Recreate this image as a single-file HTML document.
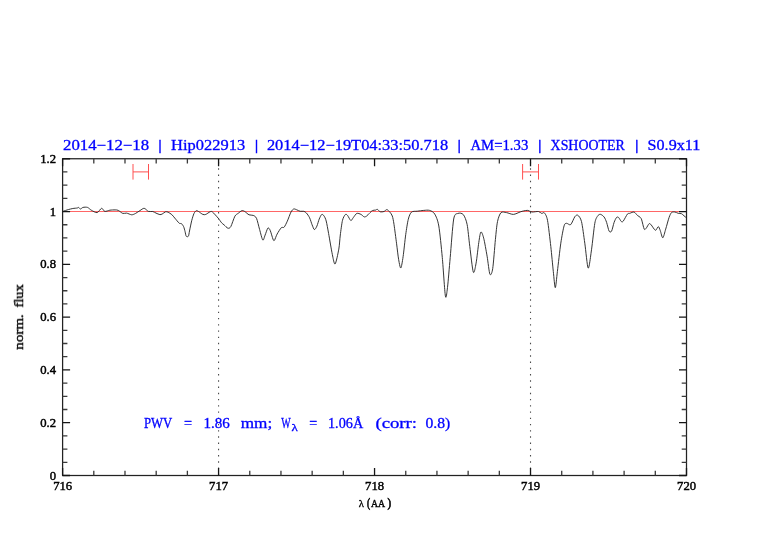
<!DOCTYPE html>
<html><head><meta charset="utf-8"><style>
html,body{margin:0;padding:0;background:#fff;}
body{width:782px;height:542px;overflow:hidden;}
svg{display:block;}
text{will-change:transform;}
</style></head><body>
<svg width="782" height="542" viewBox="0 0 782 542">
<rect width="782" height="542" fill="#fff"/>
<g fill="none" stroke="#4a4a4a" stroke-width="1.1" stroke-dasharray="1.4 4.833" stroke-dashoffset="2.87">
<path d="M218.57,158.75V475.5"/>
<path d="M530.52,158.75V475.5"/>
</g>
<path d="M62.6,211.5H686.5" stroke="#ff6666" stroke-width="1" fill="none"/>
<g stroke="#ff5050" stroke-width="1.0" fill="none">
<path d="M133,164V179.6M148.5,164V179.6M133,171.9H148.5"/>
<path d="M522.6,164V179.6M538.5,164V179.6M522.6,171.9H538.5"/>
</g>
<path d="M63.20,211.20 C63.91,210.98 66.96,209.98 68.30,209.60 C69.64,209.22 71.54,208.72 72.80,208.50 C74.06,208.28 76.50,208.15 77.30,208.00 C78.10,207.85 78.05,207.26 78.50,207.40 C78.95,207.54 79.87,209.00 80.50,209.00 C81.13,209.00 82.02,207.62 83.00,207.40 C83.98,207.18 86.34,207.01 87.50,207.40 C88.66,207.79 89.96,209.47 91.30,210.20 C92.64,210.93 95.66,212.87 97.10,212.60 C98.54,212.33 100.52,208.47 101.60,208.30 C102.68,208.13 103.64,211.13 104.80,211.40 C105.96,211.67 108.46,210.41 109.90,210.20 C111.34,209.99 113.92,209.87 115.10,209.90 C116.28,209.93 117.22,209.91 118.30,210.40 C119.38,210.89 121.64,213.02 122.80,213.40 C123.96,213.78 125.35,212.90 126.60,213.10 C127.85,213.30 130.44,214.76 131.70,214.80 C132.96,214.84 134.42,214.00 135.60,213.40 C136.78,212.80 138.90,211.21 140.10,210.50 C141.30,209.79 143.04,208.17 144.20,208.30 C145.36,208.43 147.20,210.95 148.40,211.40 C149.60,211.85 151.74,211.26 152.80,211.50 C153.86,211.74 155.01,212.67 156.00,213.10 C156.99,213.53 159.03,214.47 159.90,214.60 C160.77,214.73 161.42,214.39 162.20,214.00 C162.98,213.61 164.67,212.05 165.50,211.80 C166.33,211.55 167.22,211.81 168.10,212.20 C168.98,212.59 170.86,213.77 171.80,214.60 C172.74,215.43 173.76,216.90 174.80,218.10 C175.84,219.30 178.28,222.43 179.20,223.20 C180.12,223.97 180.78,223.12 181.40,223.60 C182.02,224.08 183.08,225.47 183.60,226.60 C184.12,227.73 184.74,230.36 185.10,231.70 C185.46,233.04 185.74,235.57 186.20,236.20 C186.66,236.83 187.94,236.93 188.40,236.20 C188.86,235.47 189.04,233.17 189.50,231.00 C189.96,228.83 191.08,223.12 191.70,220.70 C192.32,218.28 193.27,215.10 193.90,213.70 C194.53,212.30 195.57,211.02 196.20,210.70 C196.83,210.38 197.48,210.88 198.40,211.40 C199.32,211.92 201.76,213.98 202.80,214.40 C203.84,214.82 204.79,214.76 205.80,214.40 C206.81,214.04 209.06,212.14 210.00,211.80 C210.94,211.46 211.34,211.09 212.50,212.00 C213.66,212.91 217.03,216.79 218.30,218.30 C219.57,219.81 220.79,221.88 221.60,222.80 C222.41,223.72 223.22,224.14 224.10,224.90 C224.98,225.66 226.96,227.96 227.90,228.20 C228.84,228.44 229.82,228.28 230.80,226.60 C231.78,224.92 233.86,218.06 234.90,216.20 C235.94,214.34 237.21,214.08 238.20,213.30 C239.19,212.52 241.06,210.84 242.00,210.60 C242.94,210.36 243.92,211.01 244.90,211.60 C245.88,212.19 247.84,214.27 249.00,214.80 C250.16,215.33 252.15,214.91 253.20,215.40 C254.25,215.89 255.60,216.33 256.50,218.30 C257.40,220.27 258.72,226.45 259.60,229.50 C260.48,232.55 262.03,239.32 262.80,240.10 C263.57,240.88 264.39,236.78 265.10,235.10 C265.81,233.42 267.19,228.76 267.90,228.10 C268.61,227.44 269.49,228.85 270.20,230.40 C270.91,231.95 272.41,237.80 273.00,239.20 C273.59,240.60 273.83,241.11 274.40,240.40 C274.97,239.69 276.13,235.88 277.10,234.10 C278.07,232.32 280.32,228.67 281.30,227.70 C282.28,226.73 283.26,228.11 284.10,227.20 C284.94,226.29 286.33,223.33 287.30,221.20 C288.27,219.07 290.10,213.71 291.00,212.00 C291.90,210.29 292.93,209.32 293.70,209.00 C294.47,208.68 295.59,209.38 296.50,209.70 C297.41,210.02 299.18,211.08 300.20,211.30 C301.22,211.52 302.93,211.06 303.80,211.30 C304.67,211.54 305.59,212.09 306.40,213.00 C307.21,213.91 308.80,216.15 309.60,217.80 C310.40,219.45 311.43,223.15 312.10,224.80 C312.77,226.45 313.73,229.42 314.40,229.60 C315.07,229.78 316.23,227.57 316.90,226.10 C317.57,224.63 318.53,220.72 319.20,219.10 C319.87,217.48 321.03,214.95 321.70,214.50 C322.37,214.05 323.37,214.99 324.00,215.90 C324.63,216.81 325.56,218.54 326.20,221.00 C326.84,223.46 327.75,228.84 328.60,233.50 C329.45,238.16 331.39,250.03 332.30,254.30 C333.21,258.57 334.19,264.73 335.10,264.00 C336.01,263.27 338.07,253.16 338.80,249.10 C339.53,245.04 339.78,239.03 340.30,235.00 C340.82,230.97 341.79,223.17 342.50,220.30 C343.21,217.43 344.69,215.17 345.40,214.50 C346.11,213.83 346.84,214.66 347.60,215.50 C348.36,216.34 350.00,220.21 350.80,220.50 C351.60,220.79 352.46,218.59 353.30,217.60 C354.14,216.61 355.72,213.85 356.80,213.40 C357.88,212.95 359.96,213.91 361.00,214.40 C362.04,214.89 363.40,216.68 364.20,216.90 C365.00,217.12 365.99,216.49 366.70,216.00 C367.41,215.51 368.49,214.17 369.30,213.40 C370.11,212.63 371.60,210.96 372.50,210.50 C373.40,210.04 375.03,210.27 375.70,210.10 C376.37,209.93 376.67,209.06 377.30,209.30 C377.93,209.54 379.26,211.49 380.20,211.80 C381.14,212.11 383.06,211.81 384.00,211.50 C384.94,211.19 386.09,209.52 386.90,209.60 C387.71,209.68 389.04,211.20 389.80,212.10 C390.56,213.00 391.71,214.28 392.30,216.00 C392.89,217.72 393.40,220.51 394.00,224.40 C394.60,228.29 395.96,238.91 396.60,243.80 C397.24,248.69 398.01,255.91 398.60,259.30 C399.19,262.69 400.17,268.36 400.80,268.00 C401.43,267.64 402.41,261.36 403.10,256.70 C403.79,252.04 404.97,239.95 405.70,234.70 C406.43,229.45 407.49,222.36 408.30,219.20 C409.11,216.04 410.24,213.22 411.50,212.10 C412.76,210.98 415.58,211.44 417.30,211.20 C419.02,210.96 422.08,210.51 423.80,210.40 C425.52,210.29 428.07,209.90 429.60,210.40 C431.13,210.90 433.41,211.82 434.70,214.00 C435.99,216.18 437.74,219.90 438.80,226.00 C439.86,232.10 441.38,247.79 442.30,257.60 C443.22,267.41 444.67,291.93 445.40,296.10 C446.13,300.27 446.83,292.79 447.50,287.40 C448.17,282.01 449.33,267.18 450.20,257.60 C451.07,248.02 452.61,225.19 453.70,219.00 C454.79,212.81 456.66,214.02 458.00,213.40 C459.34,212.78 462.03,213.06 463.30,214.60 C464.57,216.14 466.19,219.93 467.10,224.40 C468.01,228.87 468.93,239.82 469.80,246.50 C470.67,253.18 472.42,269.78 473.30,272.10 C474.18,274.42 475.33,267.26 476.10,263.10 C476.87,258.94 478.13,246.75 478.80,242.40 C479.47,238.05 480.21,232.59 480.90,232.00 C481.59,231.41 482.83,234.81 483.70,238.20 C484.57,241.59 486.23,251.16 487.10,256.20 C487.97,261.24 489.12,272.45 489.90,274.20 C490.68,275.95 491.93,273.54 492.70,268.70 C493.47,263.86 494.73,246.19 495.40,239.60 C496.07,233.01 496.72,225.38 497.50,221.60 C498.28,217.82 499.74,213.86 501.00,212.60 C502.26,211.34 504.76,212.35 506.50,212.60 C508.24,212.85 511.47,214.50 513.40,214.40 C515.33,214.30 518.86,212.39 520.30,211.90 C521.74,211.41 522.65,211.11 523.70,210.90 C524.75,210.69 526.64,210.25 527.80,210.40 C528.96,210.55 530.50,211.85 532.00,212.00 C533.50,212.15 537.14,211.30 538.50,211.50 C539.86,211.70 540.87,213.20 541.70,213.40 C542.53,213.60 543.59,211.93 544.40,212.90 C545.21,213.87 546.60,215.60 547.50,220.30 C548.40,225.00 549.99,239.35 550.80,246.50 C551.61,253.65 552.67,265.63 553.30,271.40 C553.93,277.17 554.73,287.70 555.30,287.70 C555.87,287.70 556.63,277.63 557.40,271.40 C558.17,265.17 559.86,249.58 560.80,243.20 C561.74,236.82 563.29,228.59 564.10,225.80 C564.91,223.01 565.68,223.47 566.60,223.30 C567.52,223.13 569.54,225.54 570.70,224.60 C571.86,223.66 573.89,217.90 574.90,216.60 C575.91,215.30 576.98,214.60 577.90,215.30 C578.82,216.00 580.53,217.69 581.50,221.60 C582.47,225.51 583.86,236.69 584.80,243.20 C585.74,249.71 587.26,267.18 588.20,268.10 C589.14,269.02 590.58,256.07 591.50,249.80 C592.42,243.53 593.96,228.00 594.80,223.30 C595.64,218.60 596.72,217.46 597.50,216.20 C598.28,214.94 599.48,214.19 600.40,214.30 C601.32,214.41 603.23,215.87 604.10,217.00 C604.97,218.13 605.90,220.43 606.60,222.40 C607.30,224.37 608.40,229.88 609.10,231.10 C609.80,232.32 610.90,232.32 611.60,231.10 C612.30,229.88 613.40,224.32 614.10,222.40 C614.80,220.48 615.96,218.07 616.60,217.40 C617.24,216.73 618.06,217.04 618.70,217.60 C619.34,218.16 620.57,220.90 621.20,221.40 C621.83,221.90 622.33,222.22 623.20,221.20 C624.07,220.18 626.46,215.21 627.40,214.10 C628.34,212.99 628.98,213.59 629.90,213.30 C630.82,213.01 632.95,211.71 634.00,212.00 C635.05,212.29 636.52,214.64 637.40,215.40 C638.28,216.16 639.70,216.77 640.30,217.40 C640.90,218.03 641.15,218.26 641.70,219.90 C642.25,221.54 643.57,227.94 644.20,229.10 C644.83,230.26 645.51,228.96 646.20,228.20 C646.89,227.44 648.40,224.16 649.10,223.70 C649.80,223.24 650.32,223.98 651.20,224.90 C652.08,225.82 654.41,230.06 655.40,230.30 C656.39,230.54 657.61,226.54 658.30,226.60 C658.99,226.66 659.67,229.13 660.30,230.70 C660.93,232.27 662.04,238.02 662.80,237.80 C663.56,237.58 664.82,231.96 665.70,229.10 C666.58,226.24 668.27,219.72 669.10,217.40 C669.93,215.08 670.79,213.26 671.60,212.50 C672.41,211.74 673.98,211.89 674.90,212.00 C675.82,212.11 677.28,213.06 678.20,213.30 C679.12,213.54 680.69,213.35 681.50,213.70 C682.31,214.05 683.30,215.21 684.00,215.80 C684.70,216.39 686.15,217.61 686.50,217.90" fill="none" stroke="#2a2a2a" stroke-width="0.95" stroke-linejoin="round"/>
<rect x="62.6" y="158.75" width="623.90" height="316.75" fill="none" stroke="#222" stroke-width="1.25"/>
<path d="M93.80,475.50V470.70M93.80,158.75V163.55M124.99,475.50V470.70M124.99,158.75V163.55M156.19,475.50V470.70M156.19,158.75V163.55M187.38,475.50V470.70M187.38,158.75V163.55M249.77,475.50V470.70M249.77,158.75V163.55M280.96,475.50V470.70M280.96,158.75V163.55M312.16,475.50V470.70M312.16,158.75V163.55M343.35,475.50V470.70M343.35,158.75V163.55M405.75,475.50V470.70M405.75,158.75V163.55M436.94,475.50V470.70M436.94,158.75V163.55M468.14,475.50V470.70M468.14,158.75V163.55M499.33,475.50V470.70M499.33,158.75V163.55M561.72,475.50V470.70M561.72,158.75V163.55M592.91,475.50V470.70M592.91,158.75V163.55M624.11,475.50V470.70M624.11,158.75V163.55M655.30,475.50V470.70M655.30,158.75V163.55M62.60,462.30H67.40M686.50,462.30H681.70M62.60,449.10H67.40M686.50,449.10H681.70M62.60,435.91H67.40M686.50,435.91H681.70M62.60,409.51H67.40M686.50,409.51H681.70M62.60,396.31H67.40M686.50,396.31H681.70M62.60,383.11H67.40M686.50,383.11H681.70M62.60,356.72H67.40M686.50,356.72H681.70M62.60,343.52H67.40M686.50,343.52H681.70M62.60,330.32H67.40M686.50,330.32H681.70M62.60,303.93H67.40M686.50,303.93H681.70M62.60,290.73H67.40M686.50,290.73H681.70M62.60,277.53H67.40M686.50,277.53H681.70M62.60,251.14H67.40M686.50,251.14H681.70M62.60,237.94H67.40M686.50,237.94H681.70M62.60,224.74H67.40M686.50,224.74H681.70M62.60,198.34H67.40M686.50,198.34H681.70M62.60,185.15H67.40M686.50,185.15H681.70M62.60,171.95H67.40M686.50,171.95H681.70" stroke="#3a3a3a" stroke-width="1.3" fill="none"/>
<path d="M62.60,475.50V468.00M62.60,158.75V166.25M218.57,475.50V468.00M218.57,158.75V166.25M374.55,475.50V468.00M374.55,158.75V166.25M530.52,475.50V468.00M530.52,158.75V166.25M686.50,475.50V468.00M686.50,158.75V166.25M62.60,475.50H70.10M686.50,475.50H679.00M62.60,422.71H70.10M686.50,422.71H679.00M62.60,369.92H70.10M686.50,369.92H679.00M62.60,317.12H70.10M686.50,317.12H679.00M62.60,264.33H70.10M686.50,264.33H679.00M62.60,211.54H70.10M686.50,211.54H679.00M62.60,158.75H70.10M686.50,158.75H679.00" stroke="#151515" stroke-width="1.3" fill="none"/>
<text transform="translate(63.00,150.20) scale(1.1754,1)" font-family="Liberation Serif" font-size="14.3" font-weight="normal" fill="#0000ff" stroke="#0000ff" stroke-width="0.3">2014−12−18</text>
<text transform="translate(157.90,150.20) scale(1.4000,1)" font-family="Liberation Serif" font-size="14.3" font-weight="normal" fill="#0000ff" stroke="#0000ff" stroke-width="0.3">|</text>
<text transform="translate(171.10,150.20) scale(1.1513,1)" font-family="Liberation Serif" font-size="14.3" font-weight="normal" fill="#0000ff" stroke="#0000ff" stroke-width="0.3">Hip022913</text>
<text transform="translate(254.40,150.20) scale(1.4000,1)" font-family="Liberation Serif" font-size="14.3" font-weight="normal" fill="#0000ff" stroke="#0000ff" stroke-width="0.3">|</text>
<text transform="translate(266.90,150.20) scale(1.1493,1)" font-family="Liberation Serif" font-size="14.3" font-weight="normal" fill="#0000ff" stroke="#0000ff" stroke-width="0.3">2014−12−19T04:33:50.718</text>
<text transform="translate(457.30,150.20) scale(1.4000,1)" font-family="Liberation Serif" font-size="14.3" font-weight="normal" fill="#0000ff" stroke="#0000ff" stroke-width="0.3">|</text>
<text transform="translate(470.40,150.20) scale(1.0327,1)" font-family="Liberation Serif" font-size="14.3" font-weight="normal" fill="#0000ff" stroke="#0000ff" stroke-width="0.3">AM=1.33</text>
<text transform="translate(537.80,150.20) scale(1.4000,1)" font-family="Liberation Serif" font-size="14.3" font-weight="normal" fill="#0000ff" stroke="#0000ff" stroke-width="0.3">|</text>
<text transform="translate(550.60,150.20) scale(0.9724,1)" font-family="Liberation Serif" font-size="14.3" font-weight="normal" fill="#0000ff" stroke="#0000ff" stroke-width="0.3">XSHOOTER</text>
<text transform="translate(634.80,150.20) scale(1.4000,1)" font-family="Liberation Serif" font-size="14.3" font-weight="normal" fill="#0000ff" stroke="#0000ff" stroke-width="0.3">|</text>
<text transform="translate(647.60,150.20) scale(1.1269,1)" font-family="Liberation Serif" font-size="14.3" font-weight="normal" fill="#0000ff" stroke="#0000ff" stroke-width="0.3">S0.9x11</text>
<text transform="translate(143.90,427.70) scale(0.8907,1)" font-family="Liberation Serif" font-size="14.3" font-weight="normal" fill="#0000ff" stroke="#0000ff" stroke-width="0.3">PWV</text>
<text transform="translate(184.00,427.70) scale(1.0000,1)" font-family="Liberation Serif" font-size="14.3" font-weight="normal" fill="#0000ff" stroke="#0000ff" stroke-width="0.3">=</text>
<text transform="translate(203.44,427.70) scale(1.0557,1)" font-family="Liberation Serif" font-size="14.3" font-weight="normal" fill="#0000ff" stroke="#0000ff" stroke-width="0.3">1.86</text>
<text transform="translate(240.70,427.70) scale(1.2004,1)" font-family="Liberation Serif" font-size="14.3" font-weight="normal" fill="#0000ff" stroke="#0000ff" stroke-width="0.3">mm;</text>
<text transform="translate(281.20,427.70) scale(0.7000,1)" font-family="Liberation Serif" font-size="14.3" font-weight="normal" fill="#0000ff" stroke="#0000ff" stroke-width="0.3">W</text>
<text transform="translate(309.20,427.70) scale(0.9875,1)" font-family="Liberation Serif" font-size="14.3" font-weight="normal" fill="#0000ff" stroke="#0000ff" stroke-width="0.3">=</text>
<text transform="translate(328.00,427.70) scale(0.9966,1)" font-family="Liberation Serif" font-size="14.3" font-weight="normal" fill="#0000ff" stroke="#0000ff" stroke-width="0.3">1.06Å</text>
<text transform="translate(375.40,427.70) scale(1.3127,1)" font-family="Liberation Serif" font-size="14.3" font-weight="normal" fill="#0000ff" stroke="#0000ff" stroke-width="0.3">(corr:</text>
<text transform="translate(425.50,427.70) scale(1.0975,1)" font-family="Liberation Serif" font-size="14.3" font-weight="normal" fill="#0000ff" stroke="#0000ff" stroke-width="0.3">0.8)</text>
<text transform="translate(291.40,430.80) scale(1.3000,1)" font-family="Liberation Serif" font-size="10" font-weight="normal" fill="#0000ff" stroke="#0000ff" stroke-width="0.3">λ</text>
<text transform="translate(49.76,479.50) scale(1.0400,1)" font-family="Liberation Serif" font-size="12.2" font-weight="normal" fill="#000" stroke="#000" stroke-width="0.45">0</text>
<text transform="translate(40.25,426.71) scale(1.0400,1)" font-family="Liberation Serif" font-size="12.2" font-weight="normal" fill="#000" stroke="#000" stroke-width="0.45">0.2</text>
<text transform="translate(40.25,373.92) scale(1.0400,1)" font-family="Liberation Serif" font-size="12.2" font-weight="normal" fill="#000" stroke="#000" stroke-width="0.45">0.4</text>
<text transform="translate(40.25,321.12) scale(1.0400,1)" font-family="Liberation Serif" font-size="12.2" font-weight="normal" fill="#000" stroke="#000" stroke-width="0.45">0.6</text>
<text transform="translate(40.25,268.33) scale(1.0400,1)" font-family="Liberation Serif" font-size="12.2" font-weight="normal" fill="#000" stroke="#000" stroke-width="0.45">0.8</text>
<text transform="translate(49.76,215.54) scale(1.0400,1)" font-family="Liberation Serif" font-size="12.2" font-weight="normal" fill="#000" stroke="#000" stroke-width="0.45">1</text>
<text transform="translate(40.25,162.75) scale(1.0400,1)" font-family="Liberation Serif" font-size="12.2" font-weight="normal" fill="#000" stroke="#000" stroke-width="0.45">1.2</text>
<text transform="translate(53.14,490.00) scale(1.0400,1)" font-family="Liberation Serif" font-size="12.2" font-weight="normal" fill="#000" stroke="#000" stroke-width="0.45">716</text>
<text transform="translate(209.12,490.00) scale(1.0400,1)" font-family="Liberation Serif" font-size="12.2" font-weight="normal" fill="#000" stroke="#000" stroke-width="0.45">717</text>
<text transform="translate(365.09,490.00) scale(1.0400,1)" font-family="Liberation Serif" font-size="12.2" font-weight="normal" fill="#000" stroke="#000" stroke-width="0.45">718</text>
<text transform="translate(521.07,490.00) scale(1.0400,1)" font-family="Liberation Serif" font-size="12.2" font-weight="normal" fill="#000" stroke="#000" stroke-width="0.45">719</text>
<text transform="translate(677.04,490.00) scale(1.0400,1)" font-family="Liberation Serif" font-size="12.2" font-weight="normal" fill="#000" stroke="#000" stroke-width="0.45">720</text>
<text transform="translate(358.80,506.80) scale(0.9667,1)" font-family="Liberation Serif" font-size="11" font-weight="normal" fill="#000" stroke="#000" stroke-width="0.35">λ</text>
<text transform="translate(366.90,506.80) scale(0.7750,1)" font-family="Liberation Serif" font-size="12" font-weight="normal" fill="#000" stroke="#000" stroke-width="0.65">(</text>
<text transform="translate(370.90,506.80) scale(0.8969,1)" font-family="Liberation Serif" font-size="11" font-weight="normal" fill="#000" stroke="#000" stroke-width="0.35">AA</text>
<text transform="translate(387.40,506.80) scale(0.9000,1)" font-family="Liberation Serif" font-size="12" font-weight="normal" fill="#000" stroke="#000" stroke-width="0.65">)</text>
<text transform="translate(23.00,349.70) rotate(-90) scale(1.1144,1)" font-family="Liberation Serif" font-size="13.5" fill="#000" stroke="#000" stroke-width="0.4">norm.</text>
<text transform="translate(23.00,307.40) rotate(-90) scale(1.0593,1)" font-family="Liberation Serif" font-size="13.5" fill="#000" stroke="#000" stroke-width="0.4">flux</text>
</svg>
</body></html>
